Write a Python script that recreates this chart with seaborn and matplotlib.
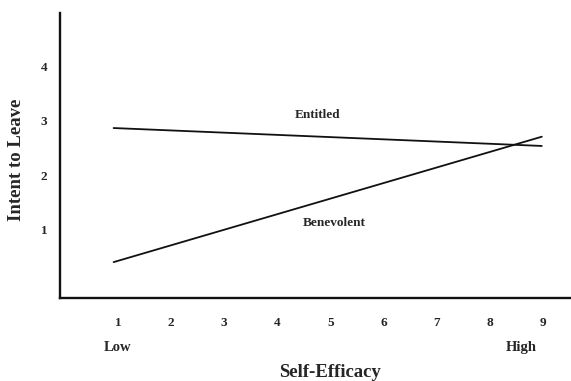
import numpy as np
import pandas as pd
import matplotlib
matplotlib.use('Agg')
import matplotlib.pyplot as plt
import seaborn as sns

# values
self_efficacy = [0.92, 8.98]
entitled = [2.87, 2.54]
benevolent = [0.40, 2.71]
groups = ['Entitled', 'Benevolent']
x_ticks = [1, 2, 3, 4, 5, 6, 7, 8, 9]
y_ticks = [1, 2, 3, 4]

df = pd.DataFrame({
    'Self-Efficacy': self_efficacy * 2,
    'Intent to Leave': entitled + benevolent,
    'group': [groups[0]] * 2 + [groups[1]] * 2,
})

sns.set_style('white')
plt.rcParams['font.family'] = ['Liberation Serif', 'DejaVu Serif']
plt.rcParams['font.weight'] = 'bold'

fig = plt.figure(figsize=(5.71, 3.81), dpi=100)
ax = fig.add_axes([0.105, 0.218, 0.895, 0.748])

sns.lineplot(data=df, x='Self-Efficacy', y='Intent to Leave', hue='group',
             palette=['#111111', '#111111'], linewidth=1.3, legend=False, ax=ax)

ax.set_xlim(-0.09, 9.53)
ax.set_ylim(-0.26, 4.99)
ax.set_xticks(x_ticks)
ax.set_yticks(y_ticks)
ax.tick_params(axis='x', length=0, pad=14, labelsize=9.5)
ax.tick_params(axis='y', length=0, pad=9, labelsize=9.5)
for lab in ax.get_xticklabels() + ax.get_yticklabels():
    lab.set_fontweight('bold')

for s in ['top', 'right']:
    ax.spines[s].set_visible(False)
for s in ['left', 'bottom']:
    ax.spines[s].set_color('#111111')
    ax.spines[s].set_linewidth(1.7)

ax.set_xlabel('Self-Efficacy', fontsize=13.5, fontweight='bold')
ax.xaxis.label.set_va('center')
ax.xaxis.set_label_coords(0.528, -0.263)
ax.set_ylabel('Intent to Leave', fontsize=13.5, fontweight='bold')
ax.yaxis.label.set_va('center')
ax.yaxis.set_label_coords(-0.086, 0.484)

ax.text(4.75, 3.11, 'Entitled', ha='center', va='center', fontsize=9.5, fontweight='bold')
ax.text(5.07, 1.12, 'Benevolent', ha='center', va='center', fontsize=9.5, fontweight='bold')

trans = ax.get_xaxis_transform()
ax.text(1, -0.175, 'Low', transform=trans, ha='center', va='center', fontsize=10.5, fontweight='bold')
ax.text(8.59, -0.175, 'High', transform=trans, ha='center', va='center', fontsize=10.5, fontweight='bold')

fig.savefig('out.png', dpi=100)
